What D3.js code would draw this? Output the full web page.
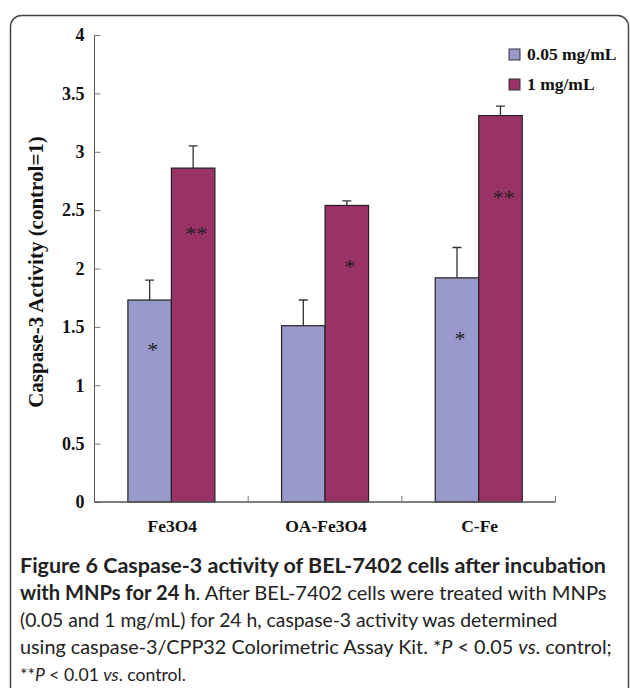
<!DOCTYPE html>
<html>
<head>
<meta charset="utf-8">
<script src="https://cdn.jsdelivr.net/npm/d3@7"></script>
<style>
  body { margin: 0; background: #fff; }
  svg { display: block; }
</style>
</head>
<body>
<div id="chart"></div>
<script>
// data
var categories = ["Fe3O4", "OA-Fe3O4", "C-Fe"];
var series = ["0.05 mg/mL", "1 mg/mL"];
var lowDose = [1.73, 1.51, 1.92];
var lowErr = [0.17, 0.22, 0.26];
var highDose = [2.86, 2.54, 3.31];
var highErr = [0.19, 0.04, 0.08];
// significance marks: [category, series index, label, y value where drawn]
var marks = [
  ["Fe3O4", 0, "*", 1.33],
  ["Fe3O4", 1, "**", 2.32],
  ["OA-Fe3O4", 1, "*", 2.04],
  ["C-Fe", 0, "*", 1.42],
  ["C-Fe", 1, "**", 2.63]
];
var yTicks = [0, 0.5, 1, 1.5, 2, 2.5, 3, 3.5, 4];
var captionLines = [
  [["Figure 6 Caspase-3 activity of BEL-7402 cells after incubation", "b"]],
  [["with MNPs for 24 h", "b"], [". After BEL-7402 cells were treated with MNPs", ""]],
  [["(0.05 and 1 mg/mL) for 24 h, caspase-3 activity was determined", ""]],
  [["using caspase-3/CPP32 Colorimetric Assay Kit. *", ""], ["P", "i"], [" < 0.05 ", ""], ["vs", "i"], [". control;", ""]],
  [["**", ""], ["P", "i"], [" < 0.01 ", ""], ["vs", "i"], [". control.", ""]]
];
// right end of each caption line in the original
var captionEnds = [620, 607, 558, 612, 186];

var colors = ["#9999cc", "#993366"];
var W = 630, H = 688;
var svg = d3.select("#chart").append("svg").attr("width", W).attr("height", H);

// rounded frame, running off the bottom edge
svg.append("rect")
  .attr("x", 10.5).attr("y", 15.5)
  .attr("width", 618).attr("height", 700)
  .attr("rx", 11)
  .attr("fill", "none").attr("stroke", "#444").attr("stroke-width", 1.5);

var plot = {left: 94.5, right: 555.5, top: 35, bottom: 502};

var x0 = d3.scaleBand().domain(categories).range([plot.left, plot.right]);
var x1 = d3.scaleBand().domain([0, 1]).range([33.4, 33.4 + 87]);
var y = d3.scaleLinear().domain([0, 4]).range([plot.bottom, plot.top]);

var rows = categories.map(function(c, i) {
  return {cat: c, vals: [
    {s: 0, v: lowDose[i], e: lowErr[i]},
    {s: 1, v: highDose[i], e: highErr[i]}
  ]};
});

var serif = "'Liberation Serif', 'Times New Roman', serif";

// y axis: ticks point inward
var yAxis = svg.append("g")
  .attr("transform", "translate(" + plot.left + ",0)")
  .call(d3.axisRight(y).tickValues(yTicks).tickSize(6).tickFormat(d3.format("")));
yAxis.select(".domain").attr("stroke", "#555").attr("d", "M0," + plot.top + "V" + plot.bottom);
yAxis.selectAll(".tick line").attr("stroke", "#777");
yAxis.selectAll(".tick text")
  .attr("text-anchor", "end").attr("x", -10)
  .style("font-family", serif).style("font-weight", "bold").style("font-size", "18px")
  .attr("fill", "#111");

var groups = svg.selectAll(".grp").data(rows).enter().append("g")
  .attr("class", "grp")
  .attr("transform", function(d) { return "translate(" + x0(d.cat) + ",0)"; });

// error bars (up only)
groups.selectAll(".err").data(function(d) { return d.vals; }).enter().append("path")
  .attr("class", "err")
  .attr("d", function(d) {
    var cx = x1(d.s) + x1.bandwidth() / 2;
    return "M" + cx + "," + y(d.v) + "V" + y(d.v + d.e) + "M" + (cx - 4.5) + "," + y(d.v + d.e) + "H" + (cx + 4.5);
  })
  .attr("stroke", "#333").attr("stroke-width", 1.3).attr("fill", "none");

groups.selectAll(".bar").data(function(d) { return d.vals; }).enter().append("rect")
  .attr("class", "bar")
  .attr("x", function(d) { return x1(d.s); })
  .attr("width", x1.bandwidth())
  .attr("y", function(d) { return y(d.v); })
  .attr("height", function(d) { return plot.bottom - y(d.v); })
  .attr("fill", function(d) { return colors[d.s]; })
  .attr("stroke", "#222").attr("stroke-width", 1.2);

// x axis: ticks point upward, between categories
var xEdges = categories.map(function(c) { return x0(c) + x0.bandwidth(); });
var xAxis = svg.append("g");
xAxis.append("path").attr("d", "M" + plot.left + "," + plot.bottom + "H" + plot.right)
  .attr("stroke", "#555").attr("stroke-width", 1.5).attr("fill", "none");
xAxis.selectAll(".xt").data(xEdges).enter().append("line")
  .attr("x1", function(d) { return d; }).attr("x2", function(d) { return d; })
  .attr("y1", plot.bottom).attr("y2", plot.bottom - 6)
  .attr("stroke", "#777");
xAxis.selectAll(".xl").data(categories).enter().append("text")
  .attr("x", function(d) { return x0(d) + x0.bandwidth() / 2 + 1; })
  .attr("y", 532)
  .attr("text-anchor", "middle")
  .style("font-family", serif).style("font-weight", "bold").style("font-size", "17.5px")
  .attr("fill", "#111")
  .text(function(d) { return d; });

// significance stars
svg.selectAll(".mark").data(marks).enter().append("text")
  .attr("x", function(d) { return x0(d[0]) + x1(d[1]) + x1.bandwidth() / 2 + 3; })
  .attr("y", function(d) { return y(d[3]) + 10; })
  .attr("text-anchor", "middle")
  .style("font-family", serif).style("font-size", "22px")
  .attr("fill", "#222")
  .text(function(d) { return d[2]; });

// y axis title
svg.append("text")
  .attr("transform", "translate(43,272) rotate(-90)")
  .attr("text-anchor", "middle")
  .style("font-family", serif).style("font-weight", "bold").style("font-size", "21px")
  .attr("fill", "#111")
  .text("Caspase-3 Activity (control=1)");

// legend
var legend = svg.selectAll(".leg").data(series).enter().append("g")
  .attr("transform", function(d, i) { return "translate(509," + (49 + i * 30) + ")"; });
legend.append("rect").attr("width", 11).attr("height", 11)
  .attr("fill", function(d, i) { return colors[i]; })
  .attr("stroke", "#333").attr("stroke-width", 1);
legend.append("text").attr("x", 18).attr("y", 11)
  .style("font-family", serif).style("font-weight", "bold").style("font-size", "17.5px")
  .attr("fill", "#111")
  .text(function(d) { return d; });

// caption: each line sized so it ends where the original line ends
var cap = svg.append("g");
captionLines.forEach(function(line, i) {
  var t = cap.append("text")
    .attr("x", 20).attr("y", 573 + i * 27)
    .style("font-family", "Lato, 'Open Sans', sans-serif").style("font-size", "18px")
    .attr("fill", "#222");
  line.forEach(function(seg) {
    t.append("tspan")
      .style("font-weight", seg[1] == "b" ? "bold" : "normal")
      .style("font-style", seg[1] == "i" ? "italic" : "normal")
      .text(seg[0]);
  });
  var fs = 18 * (captionEnds[i] - 20) / t.node().getComputedTextLength();
  t.style("font-size", Math.max(17, Math.min(fs, 21.5)) + "px");
});
</script>
</body>
</html>
